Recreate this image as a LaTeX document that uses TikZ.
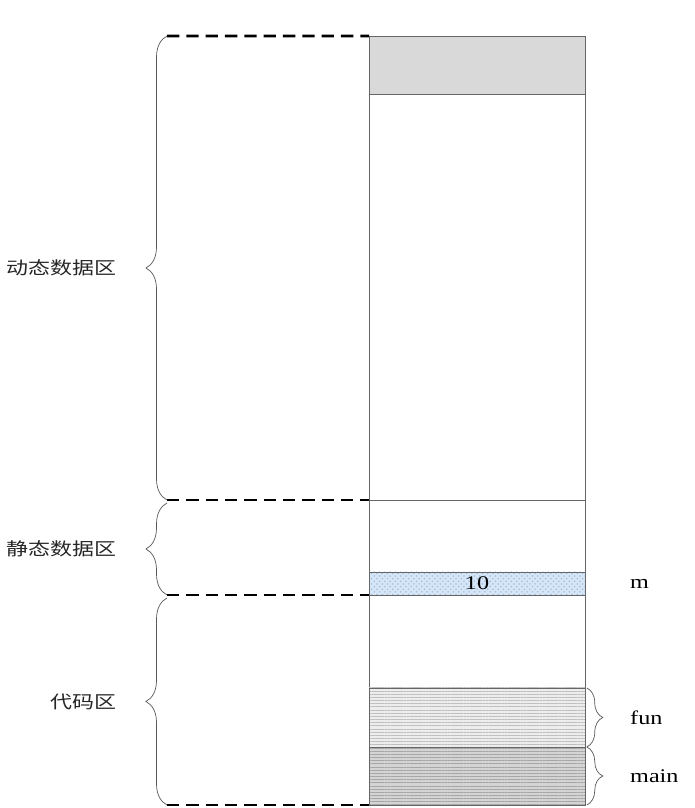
\documentclass[tikz,border=0pt]{standalone}
\usepackage{fontspec}
\setmainfont{Liberation Serif}
\newfontfamily\cjk{Noto Sans CJK SC}
\usepackage{tikz}
\usetikzlibrary{positioning,decorations.pathreplacing,patterns,patterns.meta,calc}
\newcommand{\widetxt}[1]{\scalebox{1.25}[1]{#1}}
\definecolor{valblue}{RGB}{214,230,246}
\definecolor{dotblue}{RGB}{160,190,225}

\tikzset{
  cell/.style = {draw = black!60, line width = 0.5pt, anchor = south west, minimum width = 4.32cm, inner sep = 0pt, outer sep = 0pt},
  lbrace/.style = {decorate, decoration = {brace, amplitude = 0.42cm}, draw = black!65},
  rbrace/.style = {decorate, decoration = {brace, amplitude = 0.32cm, raise = 1pt}, draw = black!65},
  sep/.style = {line width = 1.6pt, dash pattern = on 7pt off 4pt},
  zone/.style = {font = \cjk\fontsize{10}{12}\selectfont, text = black!85, inner sep = 0pt},
}

\begin{document}
\begin{tikzpicture}[font = \fontsize{11}{13}\selectfont]
\useasboundingbox (0,0) rectangle (13.88,16.16);

% memory column
\node[cell, fill = black!15, minimum height = 1.16cm] (heaptop) at (7.38, 14.28) {};
\node[cell, minimum height = 8.12cm] (heap) at (7.38, 6.16) {};
\node[cell, minimum height = 1.44cm] (statfree) at (7.38, 4.72) {};
\node[cell, minimum height = 0.46cm, preaction = {fill = valblue}, pattern = crosshatch dots, pattern color = dotblue] (mval) at (7.38, 4.26) {\widetxt{10}};
\node[cell, minimum height = 1.86cm] (codefree) at (7.38, 2.40) {};
\node[cell, minimum height = 1.18cm, preaction = {fill = black!7}, pattern = {Lines[distance = 1.8pt, line width = 0.4pt]}, pattern color = black!25] (fun) at (7.38, 1.22) {};
\node[cell, minimum height = 1.16cm, preaction = {fill = black!17}, pattern = {Lines[distance = 1.8pt, line width = 0.4pt]}, pattern color = black!35] (main) at (7.38, 0.06) {};

% brace ends
\coordinate (dyntop) at (3.34, 15.44);
\coordinate (dynbot) at (3.34, 6.16);
\coordinate (stattop) at (3.34, 6.10);
\coordinate (statbot) at (3.34, 4.26);
\coordinate (codetop) at (3.34, 4.20);
\coordinate (codebot) at (3.34, 0.06);

\draw[sep] (dyntop) -- (heaptop.north west);
\draw[sep] (dynbot) -- (heap.south west);
\draw[sep] (statbot) -- (mval.south west);
\draw[sep] (codebot) -- (main.south west);

\draw[lbrace] (dynbot) -- node[zone, left = 1.0cm] {\widetxt{动态数据区}} (dyntop);
\draw[lbrace] (statbot) -- node[zone, left = 1.0cm] {\widetxt{静态数据区}} (stattop);
\draw[lbrace] (codebot) -- node[zone, left = 1.0cm] {\widetxt{代码区}} (codetop);

\draw[rbrace] (fun.north east) -- node[right = 0.78cm] {\widetxt{fun}} (fun.south east);
\draw[rbrace] (main.north east) -- node[right = 0.78cm] {\widetxt{main}} (main.south east);

\node[right = 0.78cm of mval] (mname) {\widetxt{m}};

\end{tikzpicture}
\end{document}
